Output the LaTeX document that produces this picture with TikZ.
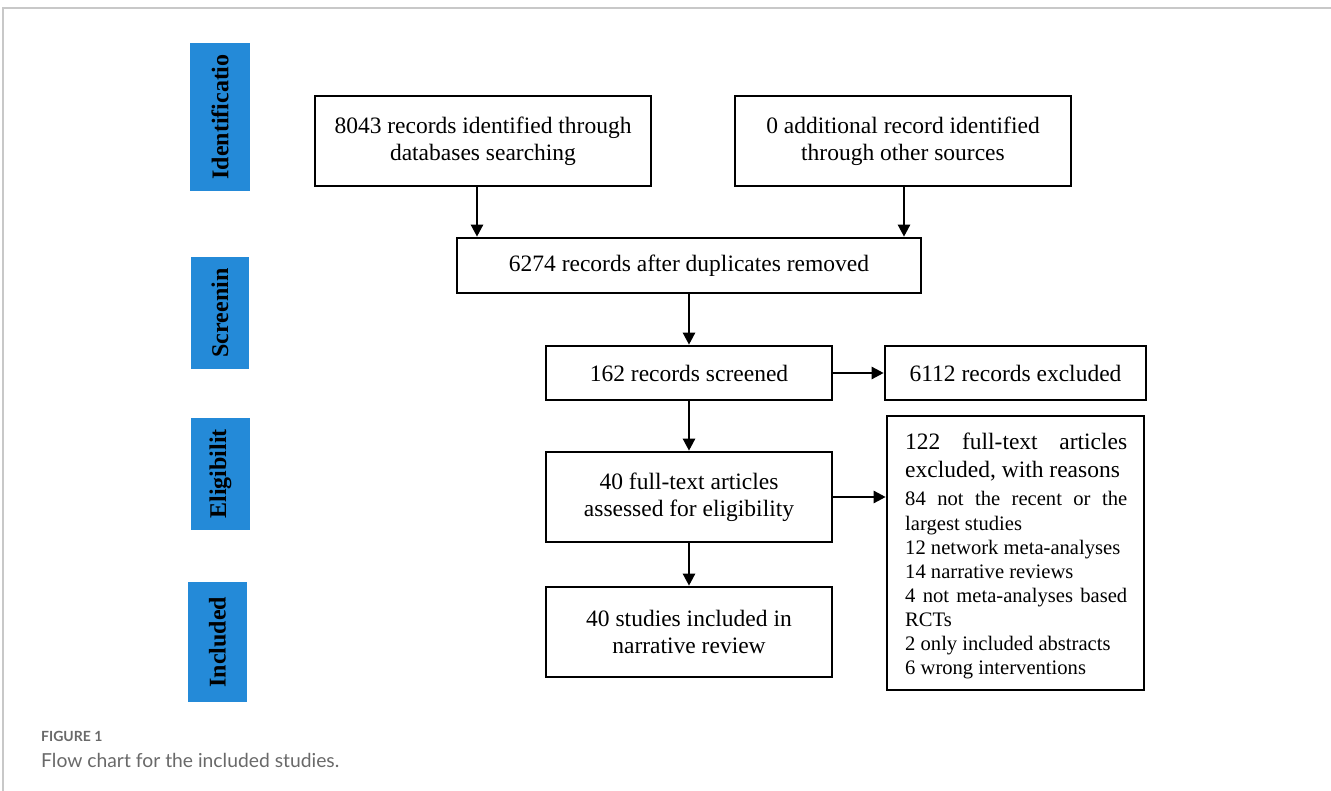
\documentclass[tikz,border=0pt]{standalone}
\usepackage{fontspec}
\setmainfont{Liberation Serif}
\newfontfamily\capfont{Lato}
\usetikzlibrary{arrows.meta}
\definecolor{stageblue}{RGB}{36,138,216}
\definecolor{capgray}{RGB}{105,105,105}
\definecolor{framegray}{RGB}{200,200,200}
\begin{document}
\begin{tikzpicture}[x=1pt,y=-1pt,
  box/.style={draw, line width=2.6pt, align=center, inner sep=0pt,
    font=\fontsize{23.5}{27}\selectfont},
  stage/.style={fill=stageblue, inner sep=0pt, rotate=90,
    font=\fontsize{24}{26}\selectfont\bfseries},
  arr/.style={line width=2.4pt, -{Triangle[length=12pt,width=12pt]}},
  reason/.style={anchor=north west, align=left, inner sep=0pt,
    font=\fontsize{20.6}{24}\selectfont}
]
\useasboundingbox (0,0) rectangle (1331,791);
% frame
\draw[framegray, line width=1.6pt] (3,791) -- (3,8) -- (1331,8);

% stage labels
\node[stage, minimum width=148pt, minimum height=60pt] (s1) at (220,117) {Identificatio};
\node[stage, minimum width=112pt, minimum height=58pt] (s2) at (220,313) {Screenin};
\node[stage, minimum width=112pt, minimum height=59pt] (s3) at (220.5,474) {Eligibilit};
\node[stage, minimum width=120pt, minimum height=59pt] (s4) at (217.5,642) {Included};

% boxes
\node[box, minimum width=336pt, minimum height=90pt] (A) at (483,141)
  {8043 records identified through\\databases searching};
\node[box, minimum width=336pt, minimum height=90pt] (B) at (903,141)
  {0 additional record identified\\through other sources};
\node[box, minimum width=464pt, minimum height=55pt] (C) at (689,265.5)
  {6274 records after duplicates removed};
\node[box, minimum width=286pt, minimum height=54pt] (D) at (689,373)
  {162 records screened};
\node[box, minimum width=261pt, minimum height=54pt] (E) at (1015.5,373)
  {6112 records excluded};
\node[box, minimum width=286pt, minimum height=90pt] (F) at (689,497)
  {40 full-text articles\\assessed for eligibility};
\node[box, minimum width=286pt, minimum height=90pt] (G) at (689,632)
  {40 studies included in\\narrative review};
\node[box, minimum width=257pt, minimum height=274pt] (H) at (1015.5,553) {};
\node[reason] (Ht) at (905,433) {%
  {\fontsize{23.5}{28}\selectfont\makebox[222pt][s]{122 full-text articles}}\\[4pt]
  {\fontsize{23.5}{28}\selectfont excluded, with reasons}\\[4pt]
  \makebox[222pt][s]{84 not the recent or the}\\[1pt]
  largest studies\\
  12 network meta-analyses\\
  14 narrative reviews\\
  \makebox[222pt][s]{4 not meta-analyses based}\\
  RCTs\\
  2 only included abstracts\\
  6 wrong interventions};

% connectors
\draw[arr] ([xshift=-6pt]A.south) -- ([xshift=-6pt]A.south |- C.north);
\draw[arr] ([xshift=1pt]B.south) -- ([xshift=1pt]B.south |- C.north);
\draw[arr] (C.south) -- (D.north);
\draw[arr] (D.south) -- (F.north);
\draw[arr] (F.south) -- (G.north);
\draw[arr] (D.east) -- (E.west);
\draw[arr] (F.east) -- (F.east -| H.west);

% caption
\node[anchor=base west, inner sep=0pt, text=capgray, font=\capfont\bfseries\fontsize{14}{16}\selectfont] (cap1) at (41,741) {FIGURE 1};
\node[anchor=base west, inner sep=0pt, text=capgray, font=\capfont\fontsize{19.3}{22}\selectfont] (cap2) at (41,767) {Flow chart for the included studies.};
\end{tikzpicture}
\end{document}
